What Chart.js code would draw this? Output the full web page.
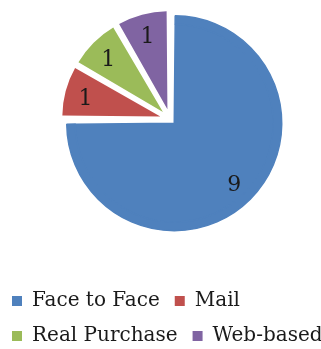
<!DOCTYPE html>
<html>
<head>
<meta charset="utf-8">
<script src="https://cdn.jsdelivr.net/npm/chart.js@4/dist/chart.umd.min.js"></script>
<style>
  html, body { margin: 0; padding: 0; width: 321px; height: 349px; overflow: hidden; background: #fff; }
  #wrap { position: absolute; left: -3px; top: -38px; width: 346px; height: 394px; }
</style>
</head>
<body>
<div id="wrap"><canvas id="c"></canvas></div>
<script>
// Survey responses by contact method
const categories = ['Face to Face', 'Mail', 'Real Purchase', 'Web-based'];
const counts = [9, 1, 1, 1];
const sliceColors = ['#4F81BD', '#C0504D', '#9BBB59', '#8064A2'];
const explode = [24, 40, 40, 40];

const FONT = '"DejaVu Serif", "Liberation Serif", serif';
const TEXT = '#1a1a1a';
const VALUE_SIZE = 22;

// Writes each slice's value inside it, centred on the digit height
const valueLabels = {
  id: 'valueLabels',
  afterDatasetsDraw(chart) {
    const ctx = chart.ctx;
    ctx.save();
    ctx.font = VALUE_SIZE + 'px ' + FONT;
    ctx.fillStyle = TEXT;
    ctx.textAlign = 'center';
    ctx.textBaseline = 'alphabetic';
    counts.forEach((v, i) => {
      let best = null;
      chart.data.datasets.forEach((ds, di) => {
        const arc = chart.getDatasetMeta(di).data[i];
        if (!arc || ds.backgroundColor[i] === 'transparent') return;
        if (!best || arc.outerRadius > best.outerRadius) best = arc;
      });
      if (!best) return;
      const p = best.getProps(['x', 'y', 'startAngle', 'endAngle', 'outerRadius', 'circumference'], true);
      const mid = (p.startAngle + p.endAngle) / 2;
      const shift = (best.options.offset || 0) / 4;
      const fix = 1 - Math.sin(Math.min(Math.PI, p.circumference));
      const r = p.outerRadius + shift * fix;
      const d = shift + 0.79 * r;
      const m = ctx.measureText(String(v));
      const half = (m.actualBoundingBoxAscent - m.actualBoundingBoxDescent) / 2;
      ctx.fillText(String(v), p.x + Math.cos(mid) * d, p.y + Math.sin(mid) * d + half);
    });
    ctx.restore();
  }
};

// the large slice is drawn in both rings; a thin same-colour edge closes the joint
const jointWidth = sliceColors.map((c, i) => (i === 0 ? 1.5 : 0));

new Chart(document.getElementById('c'), {
  type: 'pie',
  data: {
    labels: categories,
    datasets: [
      {
        // outer band: only the large slice reaches this far
        data: counts,
        backgroundColor: sliceColors.map((c, i) => (i === 0 ? c : 'transparent')),
        borderColor: sliceColors.map((c, i) => (i === 0 ? c : 'transparent')),
        borderWidth: jointWidth,
        offset: explode,
        radius: 101.5,
        weight: 8.5
      },
      {
        data: counts,
        backgroundColor: sliceColors,
        borderColor: sliceColors,
        borderWidth: jointWidth,
        offset: explode,
        radius: 101.5,
        weight: 93
      }
    ]
  },
  options: {
    responsive: true,
    maintainAspectRatio: false,
    animation: false,
    events: [],
    layout: { padding: 0 },
    plugins: {
      tooltip: { enabled: false },
      legend: {
        position: 'bottom',
        align: 'start',
        labels: {
          boxWidth: 10,
          boxHeight: 10,
          padding: 15,
          color: TEXT,
          font: { family: FONT, size: 20 },
          generateLabels: () => categories.map((t, i) => ({
            text: t,
            fillStyle: sliceColors[i],
            strokeStyle: sliceColors[i],
            lineWidth: 0,
            hidden: false,
            index: i,
            fontColor: TEXT
          }))
        }
      }
    }
  },
  plugins: [valueLabels]
});
</script>
</body>
</html>
